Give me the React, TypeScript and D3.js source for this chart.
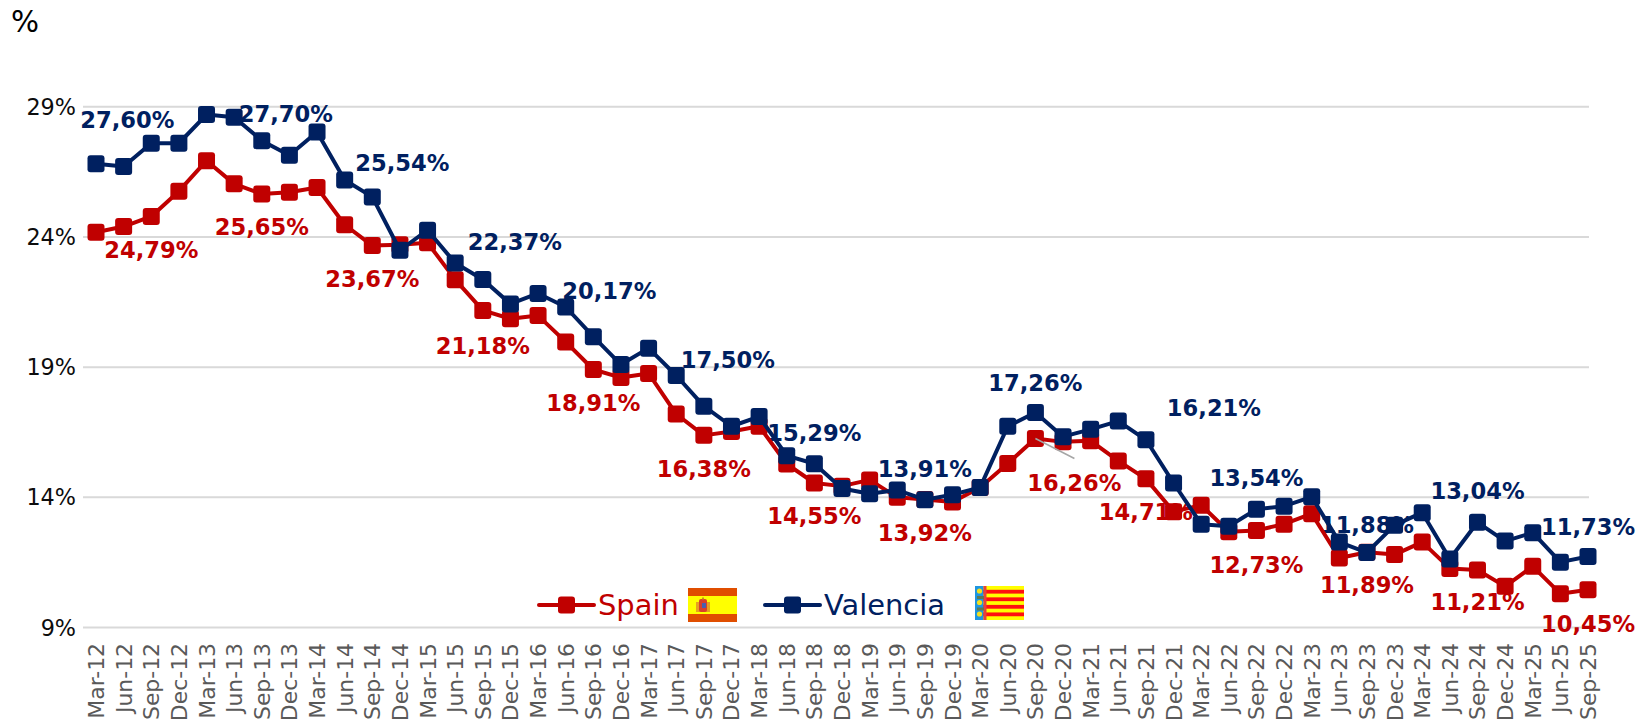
import React, { useEffect, useRef } from "react";
import * as d3 from "d3";

const months = ["Mar", "Jun", "Sep", "Dec"];
const years = ["12", "13", "14", "15", "16", "17", "18", "19", "20", "21", "22", "23", "24", "25"];
const categories = years
  .flatMap((y) => months.map((m) => `${m}-${y}`))
  .filter((c) => c !== "Dec-25");

const spain = [
  24.18, 24.4, 24.79, 25.76, 26.93, 26.04, 25.65, 25.72, 25.9, 24.47, 23.67, 23.7, 23.78, 22.36,
  21.18, 20.86, 20.98, 19.97, 18.91, 18.6, 18.76, 17.2, 16.38, 16.53, 16.73, 15.28, 14.55, 14.43,
  14.67, 14.0, 13.92, 13.82, 14.38, 15.3, 16.26, 16.13, 16.17, 15.4, 14.71, 13.45, 13.7, 12.68,
  12.73, 12.97, 13.37, 11.67, 11.89, 11.8, 12.28, 11.27, 11.21, 10.58, 11.35, 10.3, 10.45,
];

const valencia = [
  26.81, 26.71, 27.6, 27.6, 28.7, 28.6, 27.7, 27.14, 28.03, 26.19, 25.54, 23.49, 24.26, 23.0,
  22.37, 21.43, 21.83, 21.31, 20.17, 19.1, 19.73, 18.68, 17.5, 16.73, 17.1, 15.6, 15.29, 14.34,
  14.14, 14.28, 13.91, 14.1, 14.38, 16.73, 17.26, 16.33, 16.61, 16.93, 16.21, 14.55, 12.97, 12.89,
  13.54, 13.66, 14.02, 12.28, 11.88, 12.93, 13.41, 11.63, 13.04, 12.32, 12.64, 11.51, 11.73,
];

const yTicks = [9, 14, 19, 24, 29];
const labelled = [2, 6, 10, 14, 18, 22, 26, 30, 34, 38, 42, 46, 50, 54];

const RED = "#C00000";
const NAVY = "#002060";
const FONT = "'DejaVu Sans', Verdana, sans-serif";

// label nudges, px from the point: [dx, dy] in the order of `labelled`
const spainNudge = [
  [0, 33], [0, 33], [0, 33], [0, 35], [0, 33], [0, 34], [0, 33],
  [0, 33], [39, 44], [0, 33], [0, 34], [0, 33], [0, 32], [0, 34],
];
const valenciaNudge = [
  [-24, -23], [24, -27], [30, -34], [32, -38], [16, -46], [24, -46], [0, -31],
  [0, -31], [0, -30], [68, -32], [0, -31], [0, -28], [0, -31], [0, -30],
];

const fmt = (v: number) => v.toFixed(2).replace(".", ",") + "%";

export default function App() {
  const svgRef = useRef<SVGSVGElement>(null);

  useEffect(() => {
    const svg = d3.select(svgRef.current);
    svg.selectAll("*").remove();

    const x = d3.scalePoint().domain(categories).range([96, 1588]);
    const y = d3.scaleLinear().domain([9, 29]).range([627.5, 106.8]);

    // Grid
    svg
      .selectAll(".grid")
      .data(yTicks)
      .join("line")
      .attr("x1", 83)
      .attr("x2", 1589)
      .attr("y1", (d) => y(d))
      .attr("y2", (d) => y(d))
      .attr("stroke", "#D9D9D9")
      .attr("stroke-width", 2);

    // Y labels
    svg
      .selectAll(".y-label")
      .data(yTicks)
      .join("text")
      .attr("x", 76)
      .attr("y", (d) => y(d))
      .attr("dy", "0.36em")
      .attr("text-anchor", "end")
      .attr("font-size", 22.3)
      .attr("fill", "#0D0D0D")
      .text((d) => `${d}%`);

    svg
      .append("text")
      .attr("x", 11)
      .attr("y", 32)
      .attr("font-size", 29.5)
      .attr("fill", "#000")
      .text("%");

    // X labels
    svg
      .selectAll(".x-label")
      .data(categories)
      .join("text")
      .attr("transform", (d) => `translate(${x(d)! + 8},643) rotate(-90)`)
      .attr("text-anchor", "end")
      .attr("font-size", 21.9)
      .attr("fill", "#595959")
      .text((d) => d);

    // Data labels sit under the marks
    const drawLabels = (values: number[], nudge: number[][], color: string) => {
      svg
        .append("g")
        .selectAll("text")
        .data(labelled)
        .join("text")
        .attr("x", (d, i) => x(categories[d])! + nudge[i][0])
        .attr("y", (d, i) => y(values[d]) + nudge[i][1])
        .attr("dy", "0.36em")
        .attr("text-anchor", "middle")
        .attr("font-size", 22.6)
        .attr("font-weight", 700)
        .attr("fill", color)
        .text((d) => fmt(values[d]));
    };
    drawLabels(spain, spainNudge, RED);
    drawLabels(valencia, valenciaNudge, NAVY);

    const line = d3
      .line<number>()
      .x((d, i) => x(categories[i])!)
      .y((d) => y(d));

    const drawSeries = (values: number[], color: string) => {
      svg
        .append("path")
        .attr("d", line(values))
        .attr("fill", "none")
        .attr("stroke", color)
        .attr("stroke-width", 4)
        .attr("stroke-linejoin", "round");
      svg
        .append("g")
        .selectAll("rect")
        .data(values)
        .join("rect")
        .attr("x", (d, i) => x(categories[i])! - 8.5)
        .attr("y", (d) => y(d) - 8.5)
        .attr("width", 17)
        .attr("height", 17)
        .attr("rx", 3)
        .attr("fill", color);
    };
    drawSeries(spain, RED);
    drawSeries(valencia, NAVY);

    // Leader line for 16,26%
    const sep20 = categories.indexOf("Sep-20");
    svg
      .append("line")
      .attr("x1", x(categories[sep20])!)
      .attr("y1", y(spain[sep20]))
      .attr("x2", x(categories[sep20])! + 39)
      .attr("y2", y(spain[sep20]) + 20)
      .attr("stroke", "#A6A6A6")
      .attr("stroke-width", 1.5);

    // Legend
    const legendItem = (lx: number, name: string, color: string) => {
      const g = svg.append("g").attr("transform", `translate(${lx},605)`);
      g.append("line")
        .attr("x1", 0)
        .attr("x2", 55)
        .attr("stroke", color)
        .attr("stroke-width", 4)
        .attr("stroke-linecap", "round");
      g.append("rect")
        .attr("x", 19)
        .attr("y", -8.5)
        .attr("width", 17)
        .attr("height", 17)
        .attr("rx", 3)
        .attr("fill", color);
      g.append("text")
        .attr("x", 59)
        .attr("y", 10)
        .attr("font-size", 28.9)
        .attr("fill", color)
        .text(name);
    };
    legendItem(539, "Spain", RED);
    legendItem(765, "Valencia", NAVY);

    // Flags
    const es = svg.append("g").attr("transform", "translate(688,588)");
    es.append("rect").attr("width", 49).attr("height", 34).attr("fill", "#E04E00");
    es.append("rect").attr("y", 8).attr("width", 49).attr("height", 18).attr("fill", "#FFFF00");
    es.append("rect").attr("x", 8).attr("y", 14).attr("width", 14).attr("height", 10).attr("fill", "#E8A020");
    es.append("rect").attr("x", 11).attr("y", 11).attr("width", 8).attr("height", 13).attr("rx", 2).attr("fill", "#D9402A");
    es.append("rect").attr("x", 14).attr("y", 15).attr("width", 4).attr("height", 5).attr("fill", "#4A5FB0");
    es.append("rect").attr("x", 14).attr("y", 9.5).attr("width", 2).attr("height", 2).attr("fill", "#C89020");

    const vc = svg.append("g").attr("transform", "translate(975,586)");
    vc.append("rect").attr("width", 49).attr("height", 34).attr("fill", "#FFFF00");
    d3.range(4).forEach((i) => {
      vc.append("rect")
        .attr("y", 3.8 + i * 7.55)
        .attr("width", 49)
        .attr("height", 3.8)
        .attr("fill", "#FF1010");
    });
    vc.append("rect").attr("width", 8.5).attr("height", 34).attr("fill", "#1E96E0");
    vc.append("rect").attr("x", 8.5).attr("width", 3).attr("height", 34).attr("fill", "#E8403A");
    d3.range(3).forEach((i) => {
      vc.append("circle")
        .attr("cx", 4.5)
        .attr("cy", 5 + i * 11.5)
        .attr("r", 2.6)
        .attr("fill", "#F2E01E");
    });
    d3.range(2).forEach((i) => {
      vc.append("rect")
        .attr("x", 2)
        .attr("y", 10 + i * 11.5)
        .attr("width", 7)
        .attr("height", 3)
        .attr("fill", "#5E7A50");
    });
  }, []);

  return (
    <svg
      ref={svgRef}
      width={1652}
      height={721}
      fontFamily={FONT}
      style={{ position: "absolute", top: 0, left: 0, display: "block" }}
    />
  );
}
